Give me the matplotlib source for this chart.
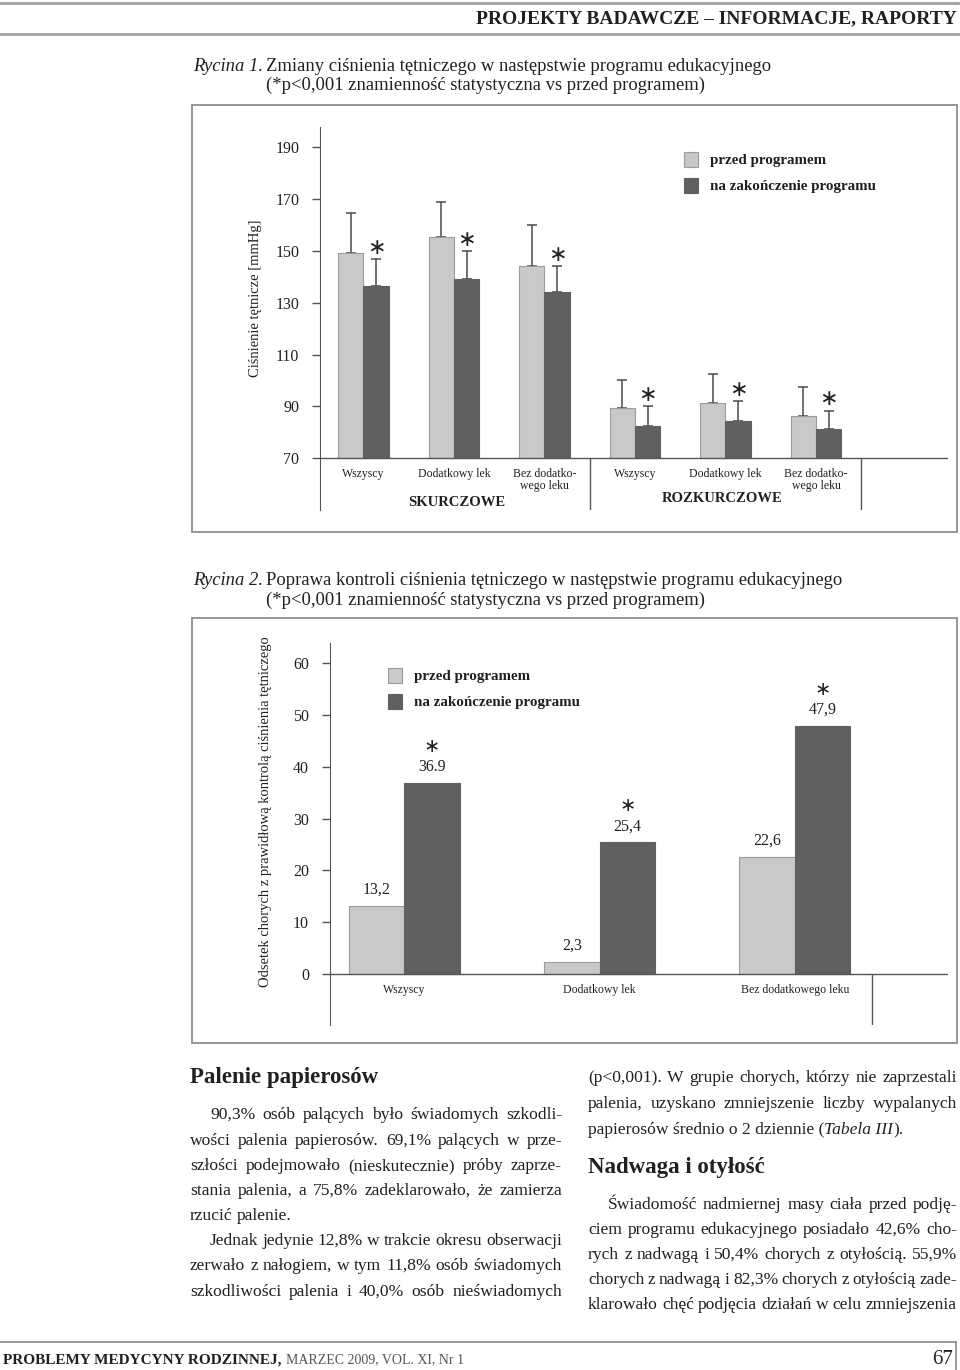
import matplotlib
matplotlib.use('Agg')
import matplotlib.pyplot as plt
import numpy as np
from matplotlib.patches import Rectangle

plt.rcParams['font.family'] = ['Liberation Serif', 'DejaVu Serif']

W, H = 960, 1370
INK = '#231f20'
LIGHT = '#c9c9c9'
LIGHT_EDGE = '#9b9b9b'
DARK = '#5f6062'
AXC = '#555555'
FRAME = '#8e8e8e'

# ---- Rycina 1 data ----
groups1 = ['Wszyscy', 'Dodatkowy lek', 'Bez dodatko-\nwego leku',
           'Wszyscy', 'Dodatkowy lek', 'Bez dodatko-\nwego leku']
sections1 = ['SKURCZOWE', 'ROZKURCZOWE']
before1 = [149.1, 155.3, 144.2, 89.3, 91.5, 86.3]
before1_err = [15.4, 13.6, 15.8, 10.8, 11.0, 11.1]
after1 = [136.4, 139.1, 134.2, 82.6, 84.3, 81.4]
after1_err = [10.6, 10.9, 9.9, 7.5, 7.8, 7.0]
yticks1 = [70, 90, 110, 130, 150, 170, 190]

# ---- Rycina 2 data ----
groups2 = ['Wszyscy', 'Dodatkowy lek', 'Bez dodatkowego leku']
before2 = [13.2, 2.3, 22.6]
after2 = [36.9, 25.4, 47.9]
before2_lbl = ['13,2', '2,3', '22,6']
after2_lbl = ['36.9', '25,4', '47,9']
yticks2 = [0, 10, 20, 30, 40, 50, 60]

legend_lbls = ['przed programem', 'na zakończenie programu']


def px_box(l, t, r, b):
    return [l / W, (H - b) / H, (r - l) / W, (b - t) / H]


fig = plt.figure(figsize=(W / 100, H / 100), dpi=100)
page = fig.add_axes([0, 0, 1, 1])
page.set_xlim(0, W)
page.set_ylim(H, 0)
page.axis('off')
renderer = fig.canvas.get_renderer()


def width_of(txt, **kw):
    t = page.text(0, 0, txt, **kw)
    w = t.get_window_extent(renderer).width
    t.remove()
    return w


def line_out(x0, x1, y, text, justify=True, fontsize=13, **kw):
    kw.setdefault('color', INK)
    words = text.split(' ')
    # shrink the line a little if it would not fit with sane word gaps
    while True:
        widths = [width_of(w_, fontsize=fontsize, **kw) for w_ in words]
        space = width_of('x x', fontsize=fontsize, **kw) - width_of('xx', fontsize=fontsize, **kw)
        if sum(widths) + 0.5 * space * (len(words) - 1) <= (x1 - x0) or not justify:
            break
        fontsize -= 0.2
    gap = space
    if justify and len(words) > 1:
        gap = (x1 - x0 - sum(widths)) / (len(words) - 1)
    x = x0
    for w_, wd in zip(words, widths):
        page.text(x, y, w_, va='center', ha='left', fontsize=fontsize, **kw)
        x += wd + gap


def runs_out(x0, y, runs):
    x = x0
    for txt, kw in runs:
        kw = dict(kw)
        kw.setdefault('color', INK)
        t = page.text(x, y, txt, va='center', ha='left', **kw)
        x += t.get_window_extent(renderer).width


# ---- header ----
page.plot([0, 958], [3, 3], color='#a0a0a0', lw=2)
page.plot([0, 958], [34, 34], color='#a0a0a0', lw=2)
page.text(957, 19, 'PROJEKTY BADAWCZE – INFORMACJE, RAPORTY', ha='right', va='center',
          fontsize=14, fontweight='bold', color=INK)

# ---- captions ----
CAP = 13.4
page.text(193, 66, 'Rycina 1.', style='italic', fontsize=CAP, va='center', color=INK)
page.text(266, 66, 'Zmiany ciśnienia tętniczego w następstwie programu edukacyjnego',
          fontsize=CAP, va='center', color=INK)
page.text(266, 85, '(*p<0,001 znamienność statystyczna vs przed programem)',
          fontsize=CAP, va='center', color=INK)
page.text(193, 580, 'Rycina 2.', style='italic', fontsize=CAP, va='center', color=INK)
page.text(266, 580, 'Poprawa kontroli ciśnienia tętniczego w następstwie programu edukacyjnego',
          fontsize=CAP, va='center', color=INK)
page.text(266, 600, '(*p<0,001 znamienność statystyczna vs przed programem)',
          fontsize=CAP, va='center', color=INK)

# frames
page.add_patch(Rectangle((192, 105), 765, 426.7, fill=False, ec=FRAME, lw=1.3))
page.add_patch(Rectangle((192, 618), 765, 425, fill=False, ec=FRAME, lw=1.3))

# ---- Rycina 1 chart ----
ax1 = fig.add_axes(px_box(319.7, 127, 948, 510.1))
ax1.patch.set_alpha(0)
ax1.set_xlim(-0.484, 6.459)
ax1.set_ylim(50, 197.8)
x1 = np.arange(len(before1))
bw = 0.28
ax1.bar(x1 - bw / 2, np.array(before1) - 70, bw, bottom=70, color=LIGHT,
        edgecolor=LIGHT_EDGE, lw=0.8, zorder=2)
ax1.bar(x1 + bw / 2, np.array(after1) - 70, bw, bottom=70, color=DARK,
        edgecolor=DARK, lw=0.8, zorder=2)
ekw = dict(fmt='none', ecolor='#4a4a4a', elinewidth=1.1, capsize=3.5, capthick=1.1, zorder=1)
ax1.errorbar(x1 - bw / 2, before1, yerr=[np.zeros(6), before1_err], **ekw)
ax1.errorbar(x1 + bw / 2, after1, yerr=[np.zeros(6), after1_err], **ekw)
for i in range(len(after1)):
    ax1.annotate('∗', xy=(x1[i] + bw / 2, after1[i] + after1_err[i]), xytext=(0, 8),
                 textcoords='offset points', ha='center', va='center',
                 fontsize=16, family='DejaVu Sans', color=INK)
    ax1.text(x1[i], 66.3, groups1[i], ha='center', va='top', fontsize=8.5,
             linespacing=1.0, color=INK)
ax1.axhline(70, color=AXC, lw=1, zorder=3)
ax1.vlines([2.5, 5.5], 50, 70, color=AXC, lw=1)
for s in ['top', 'right', 'bottom']:
    ax1.spines[s].set_visible(False)
ax1.spines['left'].set_color(AXC)
ax1.set_xticks([])
ax1.set_yticks(yticks1)
ax1.tick_params(axis='y', direction='out', length=5.8, width=1, color=AXC, pad=9,
                labelsize=11.5, labelcolor=INK)

page.text(457, 502, sections1[0], ha='center', va='center', fontsize=10.5, fontweight='bold', color=INK)
page.text(722, 498, sections1[1], ha='center', va='center', fontsize=10.5, fontweight='bold', color=INK)
page.text(256, 298, 'Ciśnienie tętnicze [mmHg]', rotation=90, ha='center', va='center',
          fontsize=10.5, color=INK)

# legend 1
page.add_patch(Rectangle((684, 152), 14, 15, fc=LIGHT, ec=LIGHT_EDGE, lw=0.8))
page.add_patch(Rectangle((684, 178), 14, 15, fc=DARK, ec=DARK, lw=0.8))
page.text(710, 160, legend_lbls[0], va='center', fontsize=10.8, fontweight='bold', color=INK)
page.text(710, 186, legend_lbls[1], va='center', fontsize=10.8, fontweight='bold', color=INK)

# ---- Rycina 2 chart ----
ax2 = fig.add_axes(px_box(329.6, 643, 948, 1025))
ax2.patch.set_alpha(0)
ax2.set_xlim(-0.381, 2.783)
ax2.set_ylim(-9.85, 63.9)
x2 = np.arange(len(before2))
bw2 = 0.284
ax2.bar(x2 - bw2 / 2, before2, bw2, color=LIGHT, edgecolor=LIGHT_EDGE, lw=0.8, zorder=2)
ax2.bar(x2 + bw2 / 2, after2, bw2, color=DARK, edgecolor=DARK, lw=0.8, zorder=2)
for i in range(len(before2)):
    ax2.annotate(before2_lbl[i], xy=(x2[i] - bw2 / 2, before2[i]), xytext=(0, 11.5),
                 textcoords='offset points', ha='center', va='center', fontsize=11.5, color=INK)
    ax2.annotate(after2_lbl[i], xy=(x2[i] + bw2 / 2, after2[i]), xytext=(0, 11.5),
                 textcoords='offset points', ha='center', va='center', fontsize=11.5, color=INK)
    ax2.annotate('∗', xy=(x2[i] + bw2 / 2, after2[i]), xytext=(0, 26.5),
                 textcoords='offset points', ha='center', va='center',
                 fontsize=14, family='DejaVu Sans', color=INK)
    ax2.text(x2[i], -3.1, groups2[i], ha='center', va='center', fontsize=8.5, color=INK)
ax2.axhline(0, color=AXC, lw=1, zorder=3)
ax2.vlines([2.394], -9.85, 0, color=AXC, lw=1)
for s in ['top', 'right', 'bottom']:
    ax2.spines[s].set_visible(False)
ax2.spines['left'].set_color(AXC)
ax2.set_xticks([])
ax2.set_yticks(yticks2)
ax2.tick_params(axis='y', direction='out', length=5.8, width=1, color=AXC, pad=9,
                labelsize=11.5, labelcolor=INK)
page.text(265, 812, 'Odsetek chorych z prawidłową kontrolą ciśnienia tętniczego', rotation=90,
          ha='center', va='center', fontsize=10.5, color=INK)

# legend 2
page.add_patch(Rectangle((388, 668), 14, 15, fc=LIGHT, ec=LIGHT_EDGE, lw=0.8))
page.add_patch(Rectangle((388, 694), 14, 15, fc=DARK, ec=DARK, lw=0.8))
page.text(414, 676, legend_lbls[0], va='center', fontsize=10.8, fontweight='bold', color=INK)
page.text(414, 702, legend_lbls[1], va='center', fontsize=10.8, fontweight='bold', color=INK)

# ---- body text ----
BODY = 12.6
page.text(190, 1078, 'Palenie papierosów', va='center', fontsize=16.5, fontweight='bold', color=INK)
left_lines = [
    (210, 1115, '90,3% osób palących było świadomych szkodli-', True),
    (190, 1141, 'wości palenia papierosów. 69,1% palących w prze-', True),
    (190, 1166, 'szłości podejmowało (nieskutecznie) próby zaprze-', True),
    (190, 1191, 'stania palenia, a 75,8% zadeklarowało, że zamierza', True),
    (190, 1216, 'rzucić palenie.', False),
    (210, 1241, 'Jednak jedynie 12,8% w trakcie okresu obserwacji', True),
    (190, 1266, 'zerwało z nałogiem, w tym 11,8% osób świadomych', True),
    (190, 1292, 'szkodliwości palenia i 40,0% osób nieświadomych', True),
]
for x0, y, txt, j in left_lines:
    line_out(x0, 562, y, txt, justify=j, fontsize=BODY)

right_lines = [
    (588, 1078, '(p<0,001). W grupie chorych, którzy nie zaprzestali'),
    (588, 1104, 'palenia, uzyskano zmniejszenie liczby wypalanych'),
]
for x0, y, txt in right_lines:
    line_out(x0, 957, y, txt, fontsize=BODY)
runs_out(588, 1130, [('papierosów średnio o 2 dziennie (', dict(fontsize=BODY)),
                     ('Tabela III', dict(fontsize=BODY, style='italic')),
                     (').', dict(fontsize=BODY))])
page.text(588, 1168, 'Nadwaga i otyłość', va='center', fontsize=16.5, fontweight='bold', color=INK)
right_lines2 = [
    (608, 1205, 'Świadomość nadmiernej masy ciała przed podję-'),
    (588, 1230, 'ciem programu edukacyjnego posiadało 42,6% cho-'),
    (588, 1255, 'rych z nadwagą i 50,4% chorych z otyłością. 55,9%'),
    (588, 1280, 'chorych z nadwagą i 82,3% chorych z otyłością zade-'),
    (588, 1305, 'klarowało chęć podjęcia działań w celu zmniejszenia'),
]
for x0, y, txt in right_lines2:
    line_out(x0, 957, y, txt, fontsize=BODY)

# ---- footer ----
page.plot([0, 956], [1342, 1342], color='#8a8a8a', lw=1.2)
page.plot([956, 956], [1342, 1370], color='#8a8a8a', lw=1.2)
fw = width_of('PROBLEMY MEDYCYNY RODZINNEJ,', fontsize=11, fontweight='bold')
page.text(3, 1360, 'PROBLEMY MEDYCYNY RODZINNEJ,', va='center', fontsize=11,
          fontweight='bold', color=INK)
page.text(3 + fw + 4, 1360, 'MARZEC 2009, VOL. XI, Nr 1', va='center', fontsize=10, color='#555555')
page.text(953, 1359, '67', ha='right', va='center', fontsize=15, color=INK)

fig.savefig('out.png', dpi=100)
